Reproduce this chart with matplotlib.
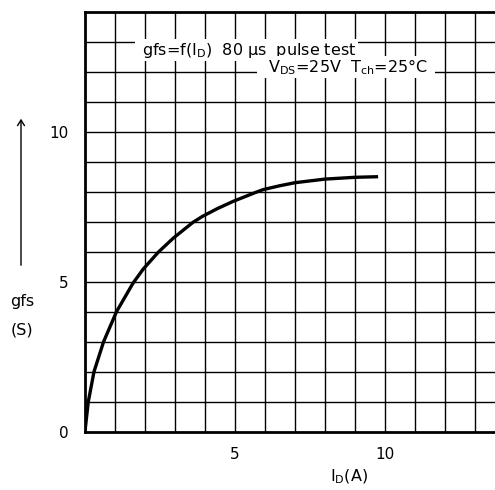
import matplotlib
matplotlib.use("Agg")
import matplotlib.pyplot as plt

# Data
id_a = [0, 0.02, 0.11, 0.3, 0.62, 1.05, 1.6, 1.94, 2.44, 2.94, 3.6, 3.92, 4.4, 4.92, 5.67, 5.94, 6.5, 7.0, 8.0, 9.0, 9.77]
gfs_s = [0, 0.2, 1.0, 2.0, 3.0, 4.0, 4.95, 5.42, 5.98, 6.45, 6.98, 7.18, 7.43, 7.67, 7.97, 8.07, 8.2, 8.3, 8.42, 8.48, 8.5]
x_ticks = [5, 10]
x_ticklabels = ["5", "10"]
y_ticks = [0, 5, 10]
y_ticklabels = ["0", "5", "10"]
note1 = " gfs=f(I$_\\mathregular{D}$)  80 \u03bcs  pulse test "
note2 = "  V$_\\mathregular{DS}$=25V  T$_\\mathregular{ch}$=25°C  "

fig = plt.figure(figsize=(4.95, 4.9), dpi=100)
ax = fig.add_axes([85 / 495, (490 - 431.7) / 490, 410 / 495, 420 / 490])
ax.set_xlim(0, 410 / 30)
ax.set_ylim(0, 14)

# grid every 1 unit
for gx in range(1, 14):
    ax.axvline(gx, color="black", lw=1.0, zorder=1)
for gy in range(1, 14):
    ax.axhline(gy, color="black", lw=1.0, zorder=1)

ax.plot(id_a, gfs_s, color="black", lw=2.4, zorder=4, solid_capstyle="butt",
        solid_joinstyle="round")

for side in ["left", "top", "bottom"]:
    ax.spines[side].set_linewidth(2.0)
ax.spines["right"].set_visible(False)

ax.set_xticks(x_ticks)
ax.set_xticklabels(x_ticklabels, fontsize=11)
ax.set_yticks(y_ticks)
ax.set_yticklabels(y_ticklabels, fontsize=11)
ax.tick_params(length=0)
ax.tick_params(axis="y", pad=12)
ax.tick_params(axis="x", pad=11)

notes = [(note1, 5.38, 12.56), (note2, 8.7, 11.98)]
for txt, xx, yy in notes:
    ax.text(xx, yy, txt, fontsize=11.5, ha="center", va="baseline", zorder=5,
            bbox=dict(facecolor="white", edgecolor="none", pad=1.0))

# y label with arrow
fig.patches.append(matplotlib.patches.FancyArrowPatch(
    (21 / 495, 1 - 268 / 490), (21 / 495, 1 - 116 / 490), transform=fig.transFigure,
    arrowstyle="->,head_length=4,head_width=2.5", color="black", lw=1.0))
fig.text(22 / 495, 1 - 301 / 490, "gfs", fontsize=11.5, ha="center", va="center")
fig.text(22 / 495, 1 - 330 / 490, "(S)", fontsize=11.5, ha="center", va="center")
fig.text(349 / 495, 1 - 477 / 490, "I$_\\mathregular{D}$(A)", fontsize=11.5, ha="center", va="center")

fig.savefig("out.png", dpi=100)
